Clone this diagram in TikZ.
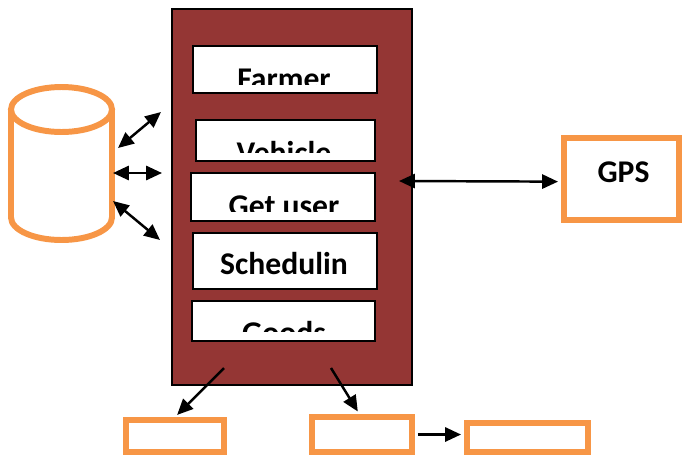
\documentclass[tikz,border=0pt]{standalone}
\usepackage{fontspec}
\setmainfont{Carlito}
\usetikzlibrary{arrows.meta,fit}
\definecolor{boxred}{HTML}{943634}
\definecolor{dborange}{HTML}{F79646}

\tikzset{
  arr/.style={line width=1.4pt, -{Triangle[length=9pt,width=8pt]}},
  darr/.style={line width=1.4pt, {Triangle[length=9pt,width=8pt]}-{Triangle[length=9pt,width=8pt]}},
  module/.style={draw, fill=white, line width=1.1pt, inner sep=0pt},
  extbox/.style={draw=dborange, fill=white, line width=3.4pt, inner sep=0pt},
  modtext/.style={font=\fontsize{18}{20}\selectfont\bfseries, anchor=base, inner sep=0pt}
}

\begin{document}
\begin{tikzpicture}[x=0.02cm, y=-0.02cm]
  \useasboundingbox (0,0) rectangle (683,454);
  \clip (0,0) rectangle (683,454);

  % server block with its modules
  \node[fit={(172,9) (412,385)}, inner sep=0pt, draw, fill=boxred, line width=1.1pt] (main) {};
  \foreach \nm/\xa/\ya/\xb/\yb/\cy/\by/\txt in {
      farmer/193/46/377/93/84/89/Farmer,
      vehicle/196/120/375/161/152/163/Vehicle,
      getuser/191/173/375/221/211/216/Get user,
      sched/193/233/377/289/289/274/Schedulin,
      goods/192/301/375/341/331/343/Goods}{
    \node[module, fit={(\xa,\ya) (\xb,\yb)}] (\nm) {};
    \begin{scope}
      \clip (\xa,\ya) rectangle (\xb,\cy);
      \node[modtext] (\nm-txt) at (284,\by) {\txt};
    \end{scope}
  }

  % database
  \draw[dborange, line width=3.4pt] (11,109.5) -- (11,217.5)
    arc[start angle=180, end angle=0, x radius=50.5, y radius=22.5] -- (112,109.5);
  \draw[dborange, line width=3.4pt] (61.5,109.5) ellipse [x radius=50.5, y radius=22.5];

  \coordinate (db1) at (118,148);  \coordinate (in1) at (161,112);
  \coordinate (db2) at (113,173);  \coordinate (in2) at (162,173);
  \coordinate (db3) at (113,201);  \coordinate (in3) at (160,240);
  \draw[darr] (db1) -- (in1);
  \draw[darr] (db2) -- (in2);
  \draw[darr] (db3) -- (in3);

  % gps
  \node[extbox, fit={(564,138) (679,220)}] (gps) {};
  \node[modtext] (gps-txt) at (623.5,182) {GPS};
  \coordinate (gpsin) at (399,181);
  \draw[darr, shorten >=1.7pt] (gpsin) -- ([yshift=-1.5pt]gps.west);

  % outputs
  \node[extbox, fit={(126,420) (224,452)}] (out1) {};
  \node[extbox, fit={(312,417) (412,452)}] (out2) {};
  \node[extbox, fit={(467,423) (588,452)}] (out3) {};
  \coordinate (m1) at (224,368);
  \coordinate (m2) at (331,368);
  \draw[arr, shorten >=1.7pt] (m1) -- (out1.north);
  \draw[arr, shorten >=1.7pt] (m2) -- ([xshift=-1.5pt]out2.north);
  \draw[arr, shorten <=1.7pt, shorten >=1.7pt] (out2.east) -- (out2.east -| out3.west);
\end{tikzpicture}
\end{document}
